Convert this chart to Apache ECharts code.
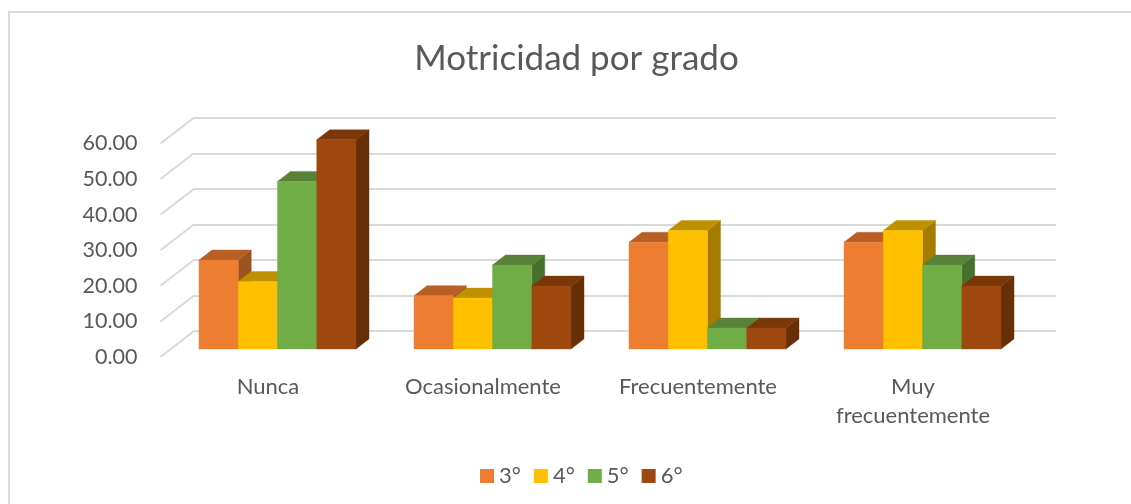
<!DOCTYPE html>
<html>
<head>
<meta charset="utf-8">
<style>html,body{margin:0;padding:0;background:#fff}#c{width:1131px;height:504px}</style>
<script src="https://cdn.jsdelivr.net/npm/echarts@6/dist/echarts.min.js"></script>
</head>
<body>
<div id="c"></div>
<script>
const categories = ['Nunca', 'Ocasionalmente', 'Frecuentemente', 'Muy\nfrecuentemente'];
const seriesNames = ['3°', '4°', '5°', '6°'];
const values3 = [25, 15, 30, 30];
const values4 = [19, 14.3, 33.3, 33.3];
const values5 = [47.1, 23.6, 5.9, 23.6];
const values6 = [58.8, 17.7, 5.9, 17.7];
const yTicks = [0, 10, 20, 30, 40, 50, 60];

const allValues = [values3, values4, values5, values6];
const frontColors = ['#ED7D31', '#FFC000', '#70AD47', '#9E480E'];
const topColors = ['#B85F24', '#BF9000', '#588237', '#7A3809'];
const sideColors = ['#9B5420', '#A57C00', '#47702D', '#672F06'];
const FONT = 'Lato';
const TEXT = '#595959';
const GRID_LINE = '#D9D9D9';

const BAR_W = 39.25, DEPTH_X = 13, DEPTH_Y = 10, PLANE_X = 9.5, PLANE_Y = 8;
const WALL_X = 33, WALL_Y = 25.5;

const poly = (points, fill) => ({
  type: 'polygon',
  shape: { points },
  style: { fill, stroke: fill, lineWidth: 0.4 }
});

function barRenderer(si) {
  return function (params, api) {
    const i = api.value(0), v = api.value(1);
    const base = api.coord([i, 0]);
    const top = api.coord([i, v]);
    const x0 = base[0] + PLANE_X - 2 * BAR_W + si * BAR_W;
    const x1 = x0 + BAR_W;
    const yb = base[1] - PLANE_Y;
    const yt = top[1] - PLANE_Y;
    return {
      type: 'group',
      children: [
        poly([[x1, yb], [x1 + DEPTH_X, yb - DEPTH_Y], [x1 + DEPTH_X, yt - DEPTH_Y], [x1, yt]], sideColors[si]),
        poly([[x0, yt], [x1, yt], [x1 + DEPTH_X, yt - DEPTH_Y], [x0 + DEPTH_X, yt - DEPTH_Y]], topColors[si]),
        poly([[x0, yb], [x1, yb], [x1, yt], [x0, yt]], frontColors[si])
      ]
    };
  };
}

const barSeries = seriesNames.map((name, si) => ({
  name,
  type: 'custom',
  xAxisIndex: 0,
  yAxisIndex: 0,
  z: 5 + si,
  itemStyle: { color: frontColors[si] },
  encode: { x: 0, y: 1 },
  data: allValues[si].map((v, i) => [i, v]),
  renderItem: barRenderer(si)
}));

const wallSeries = {
  type: 'custom',
  xAxisIndex: 0,
  yAxisIndex: 0,
  z: 1,
  silent: true,
  encode: { x: 0, y: 1 },
  data: yTicks.map(t => [0, t]),
  renderItem(params, api) {
    const p = api.coord([0, api.value(1)]);
    const x = p[0] - api.size([1, 0])[0] / 2;
    return {
      type: 'line',
      shape: { x1: x, y1: p[1], x2: x + WALL_X, y2: p[1] - WALL_Y },
      style: { stroke: GRID_LINE, lineWidth: 2 }
    };
  }
};

const chart = echarts.init(document.getElementById('c'), null, { renderer: 'canvas' });
chart.setOption({
  animation: false,
  backgroundColor: '#fff',
  title: {
    text: 'Motricidad por grado',
    left: 571.5,
    top: 36,
    textAlign: 'center',
    textStyle: { fontFamily: FONT, fontSize: 35, fontWeight: 'normal', color: TEXT }
  },
  legend: {
    data: seriesNames,
    left: 475,
    top: 460,
    icon: 'rect',
    itemWidth: 14,
    itemHeight: 14,
    itemGap: 13,
    textStyle: { fontFamily: FONT, fontSize: 22, color: TEXT }
  },
  grid: [
    { left: 160.5, width: 860, top: 143.5, height: 213.5 },
    { left: 193, width: 863, top: 118, height: 213 }
  ],
  xAxis: [
    {
      type: 'category', gridIndex: 0, data: categories,
      axisLine: { show: false }, axisTick: { show: false },
      axisLabel: { fontFamily: FONT, fontSize: 22, color: TEXT, margin: 15, lineHeight: 29, interval: 0 }
    },
    { type: 'category', gridIndex: 1, data: categories, show: false }
  ],
  yAxis: [
    {
      type: 'value', gridIndex: 0, min: 0, max: 60, interval: 10,
      axisLine: { show: false }, axisTick: { show: false }, splitLine: { show: false },
      axisLabel: { fontFamily: FONT, fontSize: 21.5, color: TEXT, margin: 23, padding: [4, 0, 0, 0], formatter: v => v.toFixed(2) }
    },
    {
      type: 'value', gridIndex: 1, min: 0, max: 60, interval: 10,
      axisLine: { show: false }, axisTick: { show: false }, axisLabel: { show: false },
      splitLine: { show: true, lineStyle: { color: GRID_LINE, width: 2 } }
    }
  ],
  graphic: [
    { type: 'line', silent: true, shape: { x1: 8, y1: 12, x2: 1131, y2: 12 }, style: { stroke: GRID_LINE, lineWidth: 2 } },
    { type: 'line', silent: true, shape: { x1: 9, y1: 12, x2: 9, y2: 504 }, style: { stroke: GRID_LINE, lineWidth: 2 } }
  ],
  series: [wallSeries].concat(barSeries)
});
</script>
</body>
</html>
